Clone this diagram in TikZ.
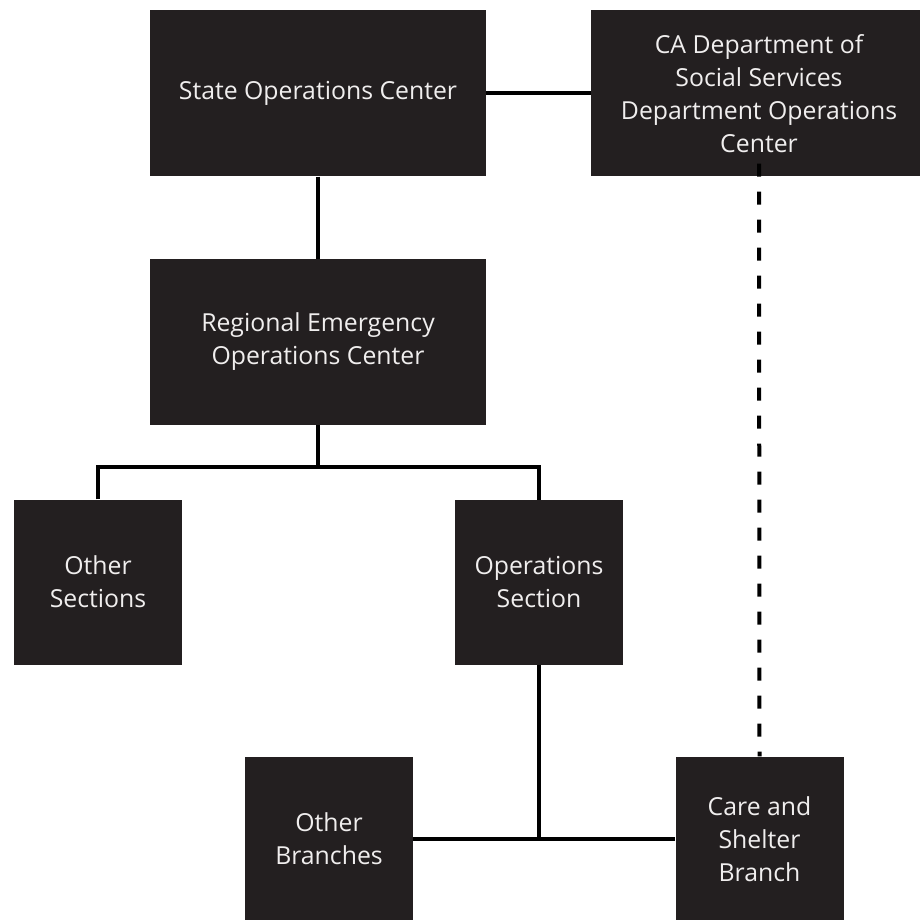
\documentclass[tikz,border=0pt]{standalone}
\usepackage{fontspec}
\setmainfont{Open Sans}
\definecolor{boxc}{HTML}{231F20}
\definecolor{txtc}{HTML}{F0EEEE}
\tikzset{
  orgbox/.style={rectangle, fill=boxc, draw=none, inner sep=0pt, text=txtc, align=center,
    font=\fontsize{24.8}{33}\selectfont},
  wide/.style={orgbox, minimum width=336pt, minimum height=166pt},
  small/.style={orgbox, minimum width=168pt, minimum height=165pt},
  link/.style={line width=4pt, draw=black},
  dlink/.style={link, dash pattern=on 13pt off 15pt}
}
\begin{document}
\begin{tikzpicture}[x=1pt,y=-1pt]
\clip (0,0) rectangle (920,920);
\fill[white] (0,0) rectangle (920,920);
\node[wide] (soc) at (318,93.5) {State Operations Center};
\node[wide] (ca) at (759,93.5) {CA Department of\\Social Services\\Department Operations\\Center};
\node[wide] (reoc) at (318,342) {Regional Emergency\\Operations Center};
\node[small] (os) at (98,582) {Other\\Sections};
\node[small] (ops) at (539,582.5) {Operations\\Section};
\node[small] (ob) at (329,839) {Other\\Branches};
\node[small] (cs) at (759.5,839) {Care and\\Shelter\\Branch};
\coordinate (j1) at (318,467);
\coordinate (j2) at (539,839);
\draw[link] (soc.east) -- (ca.west);
\draw[link] (soc.south) -- (reoc.north);
\draw[link] (reoc.south) -- (j1);
\draw[link] (os.north) |- (j1) -| (ops.north);
\draw[link] (ops.south) -- (j2);
\draw[link] (ob.east) -- (cs.west);
\draw[dlink] ([yshift=13pt]ca.south) -- (cs.north);
\end{tikzpicture}
\end{document}
